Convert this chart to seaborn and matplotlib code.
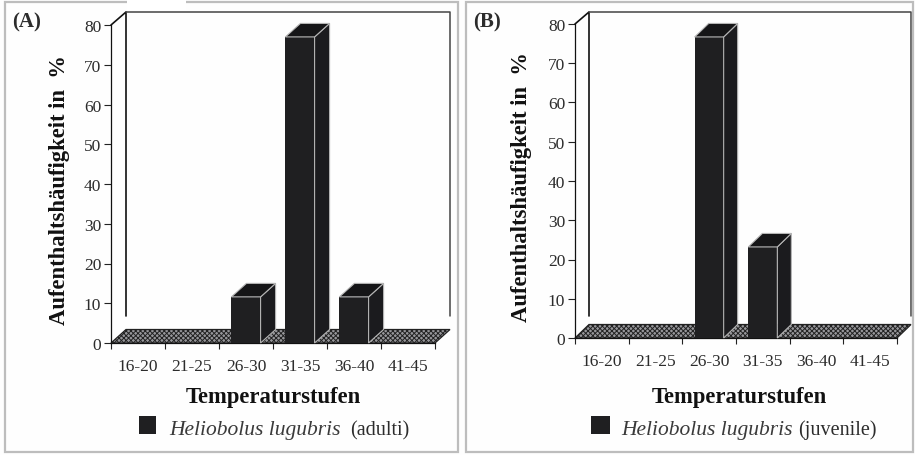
import matplotlib
matplotlib.use("Agg")
import matplotlib.pyplot as plt
from matplotlib.patches import Polygon, Rectangle
from matplotlib.lines import Line2D
import seaborn as sns

temperature_classes = ["16-20", "21-25", "26-30", "31-35", "36-40", "41-45"]
adult_values = [0, 0, 11.6, 77, 11.6, 0]
juvenile_values = [0, 0, 76.7, 23.2, 0, 0]
y_ticks = [0, 10, 20, 30, 40, 50, 60, 70, 80]
x_title = "Temperaturstufen"
y_title = "Aufenthaltshäufigkeit in  %"
species = "Heliobolus lugubris"

W, H = 915, 456
sns.set_theme(style="white")
plt.rcParams["font.family"] = ["Liberation Serif", "DejaVu Serif"]
plt.rcParams["hatch.linewidth"] = 0.7
plt.rcParams["hatch.color"] = "#333333"

fig = plt.figure(figsize=(W / 100, H / 100), dpi=100, facecolor="#fefefe")
INK = "#1f1f21"
TXT = "#2c2c2c"


def fx(x):
    return x / W


def fy(y):
    return 1 - y / H


def panel(values, letter, suffix, box, frame, titles, legend):
    left, right, y0, y80, ddx, top_back = box
    ax = fig.add_axes([fx(left), fy(y0), fx(right - left), (y0 - y80) / H])
    ax.patch.set_alpha(0)
    sns.barplot(x=temperature_classes, y=values, order=temperature_classes, color=INK,
                saturation=1, width=0.54, ax=ax, zorder=4, linewidth=0)
    ax.set_xlim(-0.5, 5.5)
    ax.set_ylim(0, 80)
    unit_x = (right - left) / 6
    unit_y = (y0 - y80) / 80
    dx = ddx / unit_x
    dy = 13.5 / unit_y
    back_top = 80 + (y80 - top_back) / unit_y
    wall_base = (y0 - 317) / unit_y

    # floor
    ax.add_patch(Polygon([(-0.5, 0), (5.5, 0), (5.5 + dx, dy), (-0.5 + dx, dy)], closed=True,
                         facecolor="#97979b", edgecolor="#222222", hatch="xxxxxxx", lw=0.9,
                         clip_on=False, zorder=2))
    # walls
    ax.add_line(Line2D([-0.5, -0.5 + dx, -0.5 + dx], [80, back_top, wall_base],
                       color="#111111", lw=1.2, clip_on=False, zorder=1))
    ax.add_line(Line2D([-0.5 + dx, 5.5 + dx, 5.5 + dx], [back_top, back_top, wall_base],
                       color="#444444", lw=1.1, clip_on=False, zorder=1))

    # 3D faces for each bar, from seaborn's own rectangles
    for bar in list(ax.patches):
        if not isinstance(bar, Rectangle) or bar.get_height() <= 0:
            continue
        x0, w, h = bar.get_x(), bar.get_width(), bar.get_height()
        x1 = x0 + w
        ax.add_patch(Polygon([(x1, 0), (x1 + dx, dy), (x1 + dx, h + dy), (x1, h)], closed=True,
                             facecolor="#1b1b1e", edgecolor="#b5b5b5", lw=0.8, clip_on=False, zorder=5))
        ax.add_patch(Polygon([(x0, h), (x1, h), (x1 + dx, h + dy), (x0 + dx, h + dy)], closed=True,
                             facecolor="#151517", edgecolor="#b5b5b5", lw=0.8, clip_on=False, zorder=5))

    for s in ("top", "right"):
        ax.spines[s].set_visible(False)
    for s in ("left", "bottom"):
        ax.spines[s].set_visible(True)
        ax.spines[s].set_color("#111111")
        ax.spines[s].set_linewidth(0.9)
        ax.spines[s].set_zorder(3)
    ax.set_yticks(y_ticks)
    ax.set_xticks(range(6))
    ax.set_xticklabels(temperature_classes)
    ax.set_xticks([i - 0.5 for i in range(7)], minor=True)
    ax.tick_params(axis="x", which="major", length=0, pad=11, labelsize=12.5, labelcolor=TXT)
    ax.tick_params(axis="x", which="minor", length=4, width=0.8, color="#222222", bottom=True)
    ax.tick_params(axis="y", which="major", length=5, width=0.8, color="#222222", left=True,
                   pad=2, labelsize=12.5, labelcolor=TXT)

    xl_x, xl_y, yl_x, yl_y = titles
    ax.set_xlabel(x_title, fontsize=16.3, fontweight="bold", color="#111111", va="center")
    ax.xaxis.set_label_coords((xl_x - left) / (right - left), (y0 - xl_y) / (y0 - y80))
    ax.set_ylabel(y_title, fontsize=16.3, fontweight="bold", color="#111111", va="center")
    ax.yaxis.set_label_coords((yl_x - left) / (right - left), (y0 - yl_y) / (y0 - y80))

    # panel frame
    fl, ft, fr, fb = frame
    fig.add_artist(Rectangle((fx(fl), fy(fb)), fx(fr - fl), (fb - ft) / H, fill=False,
                             edgecolor="#bdbdbd", lw=1.6, transform=fig.transFigure))
    fig.text(fx(fl + 7), fy(22), letter, fontsize=15, fontweight="bold", color=TXT, va="center")

    # legend
    sq_x, sq_w, tx, sx = legend
    fig.add_artist(Rectangle((fx(sq_x), fy(435)), fx(sq_w), 18 / H, facecolor=INK, edgecolor="none",
                             transform=fig.transFigure))
    fig.text(fx(tx), fy(435), species, fontsize=15.5, fontstyle="italic", color="#3a3a3a", va="baseline")
    fig.text(fx(sx), fy(435), suffix, fontsize=14.5, color=TXT, va="baseline")


panel(adult_values, "(A)", "(adulti)", (111, 435, 344, 26, 15, 13), (5, 3, 458, 453),
      (273, 398, 60, 190), (139, 17, 169, 350))
panel(juvenile_values, "(B)", "(juvenile)", (575, 897, 339, 25, 14, 13), (466, 3, 913, 453),
      (739, 398, 522, 187), (591, 19, 621, 798))

# the scan's pale strip across panel A's top edge
fig.add_artist(Rectangle((fx(127), fy(11)), fx(59), 11 / H, facecolor="white", edgecolor="none",
                         transform=fig.transFigure, zorder=10))

fig.savefig("out.png", dpi=100, facecolor=fig.get_facecolor())
